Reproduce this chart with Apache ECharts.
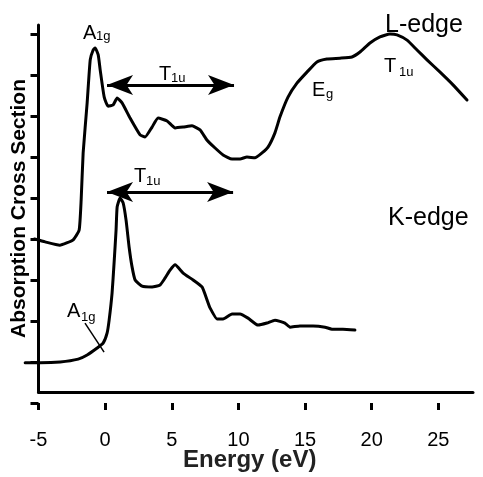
<!DOCTYPE html>
<html>
<head>
<meta charset="utf-8">
<script src="https://cdn.jsdelivr.net/npm/echarts@6/dist/echarts.min.js"></script>
<style>
  html, body { margin: 0; padding: 0; background: #fff; }
  #chart { width: 483px; height: 477px; }
</style>
</head>
<body>
<div id="chart"></div>
<script>
// L-edge absorption spectrum (energy in eV, cross section in arbitrary units)
const lEdgeEnergy = [-5.3, -4.5, -3.4, -2.4, -1.95, -1.8, -1.65, -1.35, -1.12, -0.9, -0.75, -0.52, -0.37, -0.07,
  0.22, 0.6, 0.9, 1.27, 1.87, 2.62, 3.0, 3.52, 3.97, 4.65, 5.25, 5.85, 6.52, 7.12, 7.65, 8.25, 8.85, 9.52,
  10.12, 10.64, 11.24, 11.77, 12.22, 12.74, 13.12, 13.72, 14.39, 15.14, 15.89, 16.64, 17.62, 18.52, 19.12,
  19.87, 20.62, 21.37, 21.9, 22.65, 23.4, 24.15, 25.13, 26.1, 27.15];
const lEdgeSignal = [4.0, 3.93, 3.85, 3.98, 4.22, 4.95, 6.1, 7.32, 8.37, 8.61, 8.66, 8.49, 8.12, 7.46,
  7.24, 7.27, 7.44, 7.32, 6.95, 6.54, 6.49, 6.73, 6.95, 6.88, 6.71, 6.73, 6.76, 6.66, 6.41, 6.22, 6.05, 5.95,
  5.95, 6.0, 5.98, 6.1, 6.24, 6.59, 6.98, 7.46, 7.8, 8.07, 8.32, 8.39, 8.41, 8.44, 8.56,
  8.78, 8.93, 9.0, 8.98, 8.85, 8.61, 8.37, 8.07, 7.76, 7.39];

// K-edge absorption spectrum
const kEdgeEnergy = [-6.0, -4.87, -3.37, -2.02, -1.35, -0.6, -0.15, 0.15, 0.3, 0.52, 0.67, 0.82, 0.9, 1.12,
  1.35, 1.57, 1.8, 2.02, 2.25, 2.77, 3.52, 4.12, 4.5, 4.87, 5.25, 5.85, 6.6, 7.27, 7.65, 7.87, 8.4, 8.85,
  9.52, 10.12, 10.72, 11.47, 12.14, 12.74, 13.49, 13.87, 14.62, 15.6, 16.5, 17.02, 17.84, 18.74];
const kEdgeSignal = [0.98, 0.98, 1.0, 1.07, 1.17, 1.34, 1.46, 1.71, 2.02, 2.68, 3.41, 4.22, 4.78, 5.0,
  4.88, 4.46, 3.8, 3.32, 3.0, 2.85, 2.83, 2.88, 3.05, 3.24, 3.37, 3.17, 3.0, 2.83, 2.51, 2.32, 2.05, 2.05,
  2.17, 2.17, 2.07, 1.9, 1.95, 2.02, 1.95, 1.85, 1.88, 1.88, 1.85, 1.8, 1.8, 1.78];

// Axis ranges and tick steps
const energyRange = [-5, 27.6];      // drawn energy axis
const energyDataMin = -7.5;          // spectra start a little left of the axis
const energyTickRange = [-5, 25];
const energyStep = 5;
const signalRange = [0, 9.22];
const signalTickRange = [0, 9];
const signalStep = 1;

// T1u band arrows: [energy from, energy to, level]
const upperArrow = [0.14, 9.67, 7.756];
const lowerArrow = [0.14, 9.6, 5.146];
// A1g pointer on the K-edge pre-edge: [[E, y], [E, y]]
const a1gPointer = [[-1.51, 1.95], [-0.08, 1.24]];

const FONT = '"Liberation Sans", Arial, Helvetica, sans-serif';
const zip = (xs, ys) => xs.map((x, i) => [x, ys[i]]);

const chart = echarts.init(document.getElementById('chart'), null, { renderer: 'canvas' });

const ink = '#000';
const lineStyle = { color: ink, width: 3, cap: 'round', join: 'round' };

// layout of the plotting frame
const frame = { left: 38.5, right: 10, top: 25, bottom: 74 };
const pxPerEv = (483 - frame.left - frame.right) / (energyRange[1] - energyRange[0]);
const pxPerUnit = (477 - frame.top - frame.bottom) / (signalRange[1] - signalRange[0]);

function label(txt, x, y, size, weight) {
  return {
    type: 'text', x: x, y: y, silent: true,
    style: { text: txt, fill: ink, font: (weight || 'normal') + ' ' + size + 'px ' + FONT,
      align: 'left', verticalAlign: 'middle' }
  };
}

const option = {
  animation: false,
  backgroundColor: '#fff',
  grid: [
    // data grid: same scale as the frame, extended to the left
    { left: frame.left - (energyRange[0] - energyDataMin) * pxPerEv, right: frame.right, top: frame.top, bottom: frame.bottom },
    // frame with axis lines and titles
    { left: frame.left, right: frame.right, top: frame.top, bottom: frame.bottom },
    // tick marks and tick labels
    { left: frame.left,
      right: frame.right + (energyRange[1] - energyTickRange[1]) * pxPerEv,
      top: frame.top + (signalRange[1] - signalTickRange[1]) * pxPerUnit,
      bottom: frame.bottom }
  ],
  xAxis: [
    { gridIndex: 0, type: 'value', min: energyDataMin, max: energyRange[1], show: false },
    {
      gridIndex: 1, type: 'value', min: energyRange[0], max: energyRange[1],
      axisLine: { show: true, onZero: false, lineStyle: { color: ink, width: 3 } },
      axisTick: { show: false }, axisLabel: { show: false }, splitLine: { show: false },
      name: 'Energy (eV)', nameLocation: 'middle', nameGap: 56,
      nameTextStyle: { fontFamily: FONT, fontWeight: 'bold', fontSize: 24, color: '#222', padding: [0, 12, 0, 0] }
    },
    {
      gridIndex: 2, type: 'value', min: energyTickRange[0], max: energyTickRange[1], interval: energyStep,
      axisLine: { show: false, onZero: false },
      axisTick: { show: true, length: 7, lineStyle: { color: ink, width: 3 } },
      axisLabel: { show: true, margin: 27, color: ink, fontFamily: FONT, fontSize: 20 },
      splitLine: { show: false }
    }
  ],
  yAxis: [
    { gridIndex: 0, type: 'value', min: signalRange[0], max: signalRange[1], show: false },
    {
      gridIndex: 1, type: 'value', min: signalRange[0], max: signalRange[1],
      axisLine: { show: true, onZero: false, lineStyle: { color: ink, width: 3 } },
      axisTick: { show: false }, axisLabel: { show: false }, splitLine: { show: false },
      name: 'Absorption Cross Section', nameLocation: 'middle', nameGap: 9,
      nameTextStyle: { fontFamily: FONT, fontWeight: 'bold', fontSize: 21, color: ink }
    },
    {
      gridIndex: 2, type: 'value', min: signalTickRange[0], max: signalTickRange[1], interval: signalStep,
      axisLine: { show: false, onZero: false },
      axisTick: { show: true, length: 8, lineStyle: { color: ink, width: 3 } },
      axisLabel: { show: false }, splitLine: { show: false }
    }
  ],
  series: [
    {
      name: 'L-edge', type: 'line', xAxisIndex: 0, yAxisIndex: 0,
      data: zip(lEdgeEnergy, lEdgeSignal), showSymbol: false, smooth: 0.15,
      lineStyle: lineStyle,
      markLine: {
        silent: true, animation: false, symbol: ['arrow', 'arrow'], symbolSize: [15, 26],
        label: { show: false },
        lineStyle: { color: ink, width: 3, type: 'solid' },
        data: [
          [{ coord: [upperArrow[0], upperArrow[2]] }, { coord: [upperArrow[1], upperArrow[2]] }],
          [{ coord: [lowerArrow[0], lowerArrow[2]] }, { coord: [lowerArrow[1], lowerArrow[2]] }],
          [{ coord: a1gPointer[0], symbol: 'none', lineStyle: { width: 1.5 } },
           { coord: a1gPointer[1], symbol: 'none' }]
        ]
      }
    },
    {
      name: 'K-edge', type: 'line', xAxisIndex: 0, yAxisIndex: 0,
      data: zip(kEdgeEnergy, kEdgeSignal), showSymbol: false, smooth: 0.15,
      lineStyle: lineStyle
    }
  ],
  graphic: [
    label('A', 83, 33.4, 20), label('1g', 96, 36.7, 13),
    label('T', 159, 74.4, 20), label('1u', 171, 78.7, 13),
    label('T', 134, 176.4, 20), label('1u', 146, 181.7, 13),
    label('A', 67, 311.4, 20), label('1g', 81, 317.7, 13),
    label('E', 312, 90.4, 20), label('g', 326, 94.7, 13),
    label('T', 384, 66.4, 20), label('1u', 399, 72.7, 13),
    label('L-edge', 385, 24.8, 25),
    label('K-edge', 388, 217.8, 25)
  ]
};

chart.setOption(option);
</script>
</body>
</html>
